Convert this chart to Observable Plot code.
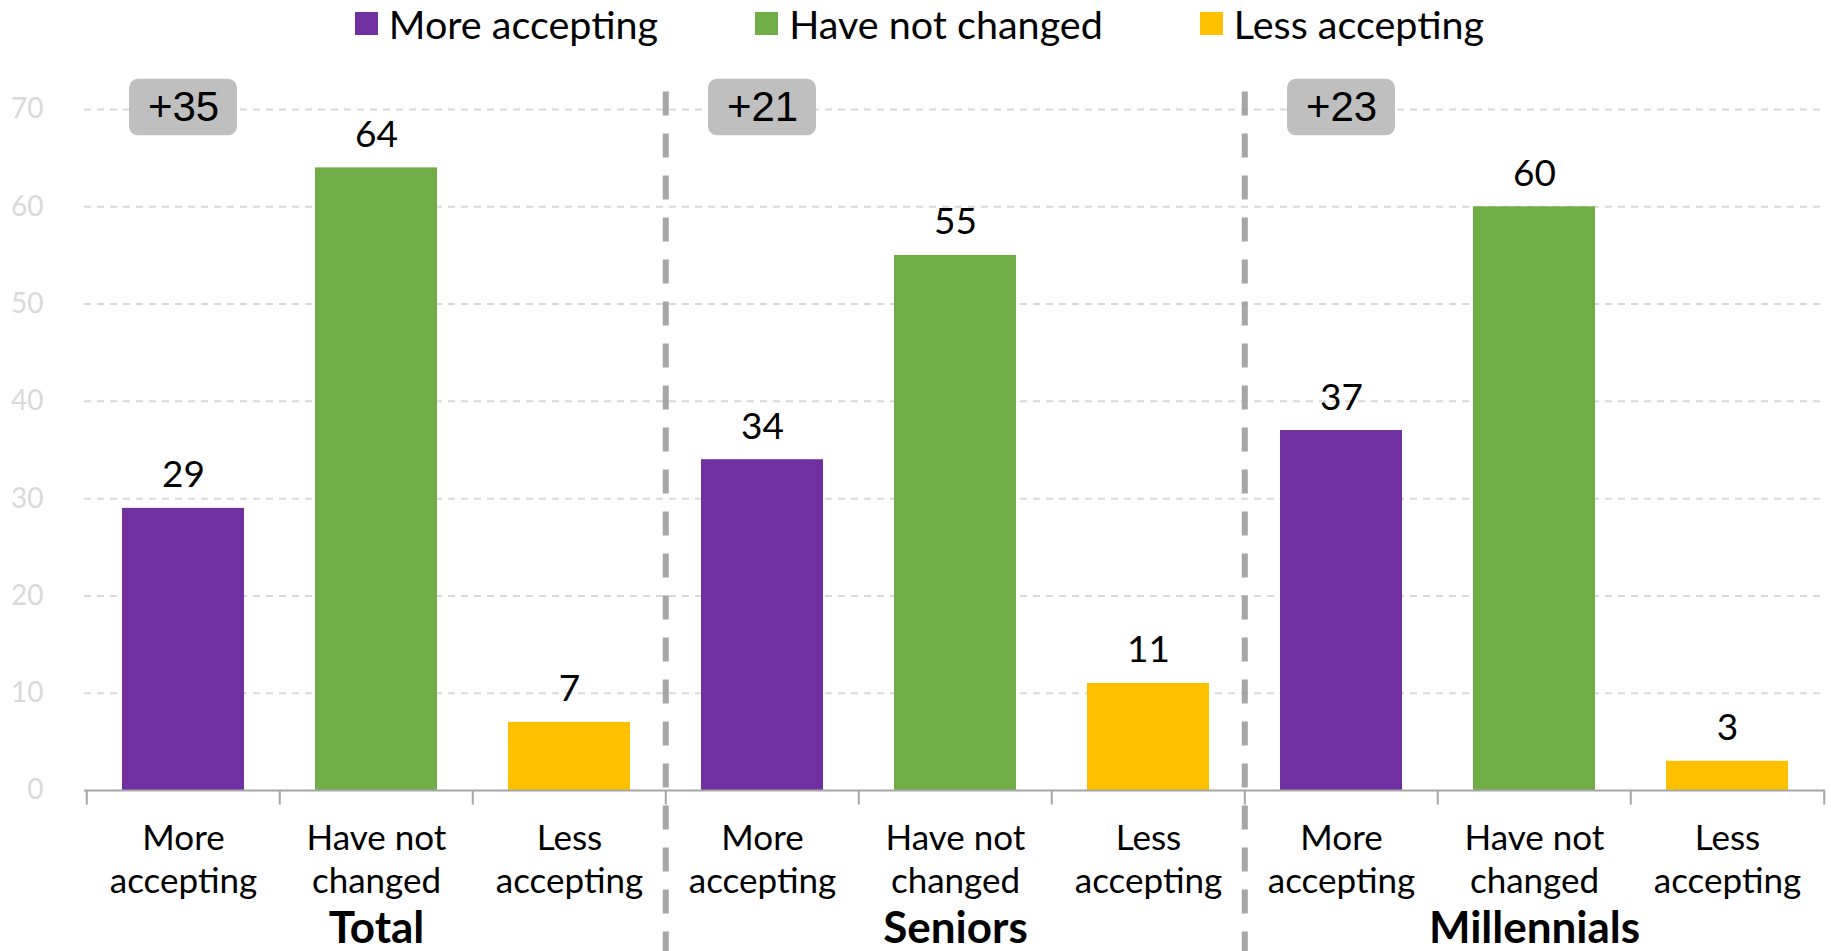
<!DOCTYPE html>
<html>
<head>
<meta charset="utf-8">
<script src="https://cdn.jsdelivr.net/npm/d3@7"></script>
<script src="https://cdn.jsdelivr.net/npm/@observablehq/plot@0.6"></script>
<style>
  html, body { margin: 0; padding: 0; background: #fff; }
  body { width: 1831px; height: 951px; overflow: hidden; font-family: Lato, "Open Sans", sans-serif; }
  #legend { height: 46px; display: flex; justify-content: center; align-items: center; gap: 97px; font-size: 39.5px; color: #000; padding-left: 8px; }
  #legend .item { display: flex; align-items: center; }
  #legend .sw { width: 23px; height: 23px; margin-right: 11px; display: inline-block; }
</style>
</head>
<body>
<div id="legend"></div>
<div id="chart"></div>
<script>
// ---- data ----
const groups = ["Total", "Seniors", "Millennials"];
const categories = ["More accepting", "Have not changed", "Less accepting"];
const categoryLabels = ["More\naccepting", "Have not\nchanged", "Less\naccepting"];
const totalValues = [29, 64, 7];
const seniorsValues = [34, 55, 11];
const millennialsValues = [37, 60, 3];
const netLabels = ["+35", "+21", "+23"];
const colors = ["#7030a0", "#70ad47", "#ffc000"];
const yTicks = [0, 10, 20, 30, 40, 50, 60, 70];

const series = [totalValues, seniorsValues, millennialsValues];
const data = groups.flatMap((g, gi) => categories.map((c, ci) => ({
  key: g + "|" + c, group: g, category: c, label: categoryLabels[ci], value: series[gi][ci]
})));
const keys = data.map(d => d.key);
const annotations = groups.map((g, gi) => ({ key: g + "|" + categories[0], text: netLabels[gi] }));
const groupLabels = groups.map(g => ({ key: g + "|" + categories[1], text: g }));

// legend
const legend = document.getElementById("legend");
categories.forEach((c, i) => {
  const it = document.createElement("div"); it.className = "item";
  const sw = document.createElement("span"); sw.className = "sw"; sw.style.background = colors[i];
  const tx = document.createElement("span"); tx.textContent = c;
  it.appendChild(sw); it.appendChild(tx); legend.appendChild(it);
});

const W = 1831, H = 905, ML = 84, MR = 6;
const step = (W - ML - MR) / keys.length;

const chart = Plot.plot({
  width: W, height: H,
  marginLeft: ML, marginRight: MR, marginTop: 63, marginBottom: 161,
  style: { fontFamily: "Lato, 'Open Sans', sans-serif", background: "#fff", overflow: "visible" },
  x: { type: "band", domain: keys, paddingInner: 0.37, paddingOuter: 0.185, axis: null },
  y: { domain: [0, 70], axis: null },
  color: { domain: categories, range: colors },
  marks: [
    Plot.gridY(yTicks.slice(1), { stroke: "#d9d9d9", strokeOpacity: 1, strokeWidth: 2, strokeDasharray: "7,6" }),
    Plot.axisY(yTicks, { tickSize: 0, tickPadding: 41, fill: "#d9d9d9", fontSize: 28, label: null }),
    Plot.barY(data, { x: "key", y: "value", fill: "category" }),
    Plot.ruleY([0], { stroke: "#a6a6a6", strokeWidth: 2 }),
    Plot.ruleX(keys, { x: d => d, dx: -step / 2, y1: 0, y2: -1.5, stroke: "#a6a6a6", strokeWidth: 2 }),
    Plot.ruleX([keys[keys.length - 1]], { x: d => d, dx: step / 2, y1: 0, y2: -1.5, stroke: "#a6a6a6", strokeWidth: 2 }),
    Plot.ruleX([keys[3], keys[6]], { x: d => d, dx: -step / 2, y1: -17, y2: 72.6, stroke: "#a6a6a6", strokeWidth: 6, strokeDasharray: "24,18" }),
    Plot.text(data, { x: "key", y: "value", text: d => String(d.value), lineAnchor: "bottom", dy: -21, fontSize: 37, fill: "#000" }),
    Plot.text(data, { x: "key", y: 0, text: "label", lineAnchor: "top", dy: 28, fontSize: 35, lineHeight: 1.25, fill: "#000" }),
    Plot.text(groupLabels, { x: "key", y: 0, text: "text", lineAnchor: "middle", dy: 138, fontSize: 44, fontWeight: "bold", fill: "#000" }),
    Plot.barY(annotations, { x: "key", y1: 67.3, y2: 73.1, fill: "#bfbfbf", rx: 9, insetLeft: 7, insetRight: 7 }),
    Plot.text(annotations, { x: "key", y: 70.2, text: "text", fontSize: 42, fontFamily: "'Liberation Sans', Arial, sans-serif", fill: "#000" })
  ]
});
document.getElementById("chart").appendChild(chart);
</script>
</body>
</html>
